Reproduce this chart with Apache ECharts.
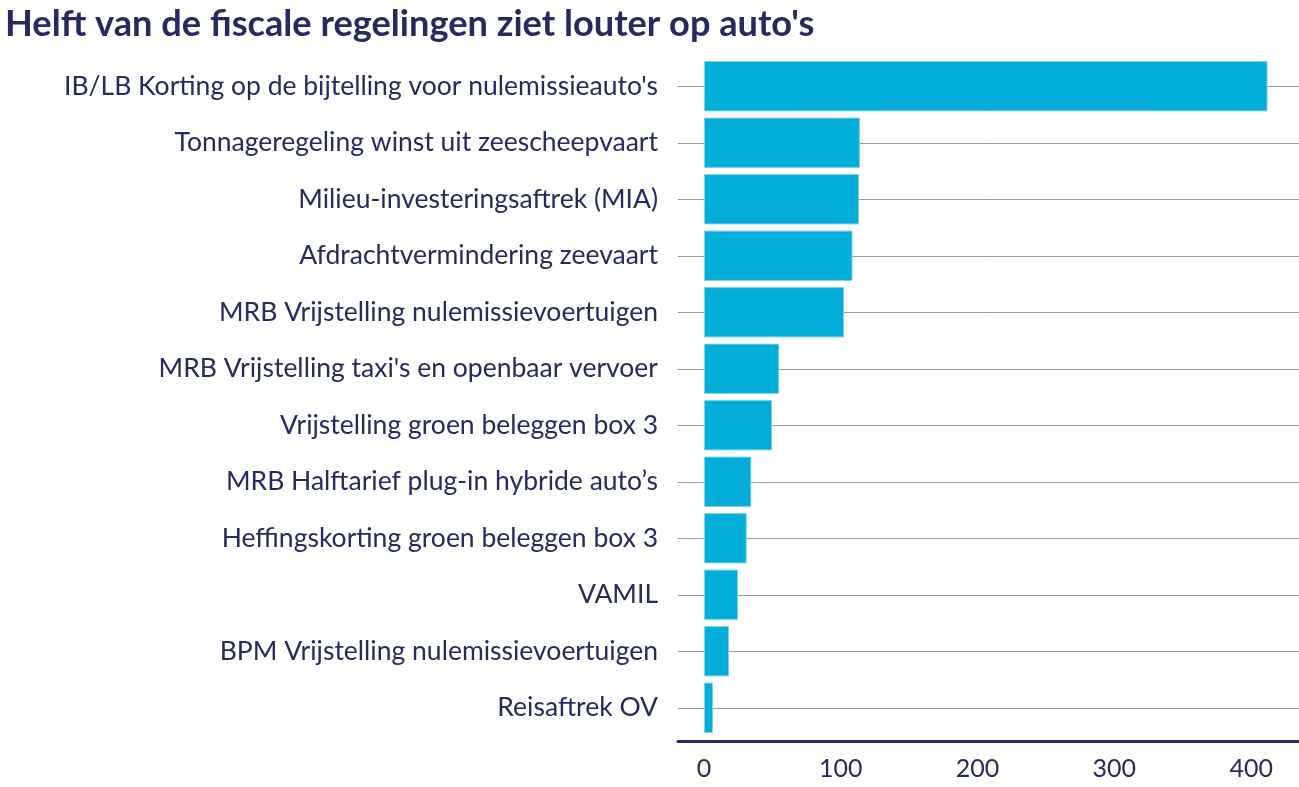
<!DOCTYPE html>
<html>
<head>
<meta charset="utf-8">
<script src="https://cdn.jsdelivr.net/npm/echarts@6/dist/echarts.min.js"></script>
<style>
html,body{margin:0;padding:0;background:#fff;}
#c{width:1299px;height:787px;}
</style>
</head>
<body>
<div id="c"></div>
<script>
const titleText = "Helft van de fiscale regelingen ziet louter op auto's";
const categories = [
  "IB/LB Korting op de bijtelling voor nulemissieauto's",
  "Tonnageregeling winst uit zeescheepvaart",
  "Milieu-investeringsaftrek (MIA)",
  "Afdrachtvermindering zeevaart",
  "MRB Vrijstelling nulemissievoertuigen",
  "MRB Vrijstelling taxi's en openbaar vervoer",
  "Vrijstelling groen beleggen box 3",
  "MRB Halftarief plug-in hybride auto’s",
  "Heffingskorting groen beleggen box 3",
  "VAMIL",
  "BPM Vrijstelling nulemissievoertuigen",
  "Reisaftrek OV"
];
const values = [412, 114, 113.4, 108.6, 102.4, 55, 49.7, 34.6, 31.2, 24.9, 18.3, 6.6];
const tickValues = [0, 100, 200, 300, 400];

const navy = '#262a5e';
const chart = echarts.init(document.getElementById('c'));
chart.setOption({
  animation: false,
  title: {
    text: titleText,
    left: 0, top: 1,
    textStyle: {fontFamily: 'Lato', fontWeight: 'bold', fontSize: 36.2, color: navy}
  },
  grid: {left: 678, right: 0, top: 58, bottom: 51, containLabel: false},
  xAxis: {
    type: 'value', min: -19, max: 435,
    offset: 5,
    axisLine: {show: true, lineStyle: {color: navy, width: 3}},
    axisTick: {show: false},
    splitLine: {show: false},
    axisLabel: {customValues: tickValues, fontFamily: 'Lato', fontSize: 25, color: navy, margin: 15}
  },
  yAxis: {
    type: 'category', data: categories, inverse: true,
    axisLine: {show: false, onZero: false},
    axisTick: {show: true, alignWithLabel: true, inside: true, length: 621, interval: 0,
      lineStyle: {color: '#9a9a9a', width: 1}},
    splitLine: {show: false},
    axisLabel: {interval: 0, fontFamily: 'Lato', fontSize: 26.5, color: navy, margin: 20}
  },
  series: [{
    type: 'bar', data: values,
    barCategoryGap: '11%',
    itemStyle: {color: '#02aed8', borderColor: '#7fd2ec', borderWidth: 1},
    z: 3
  }]
});
</script>
</body>
</html>
